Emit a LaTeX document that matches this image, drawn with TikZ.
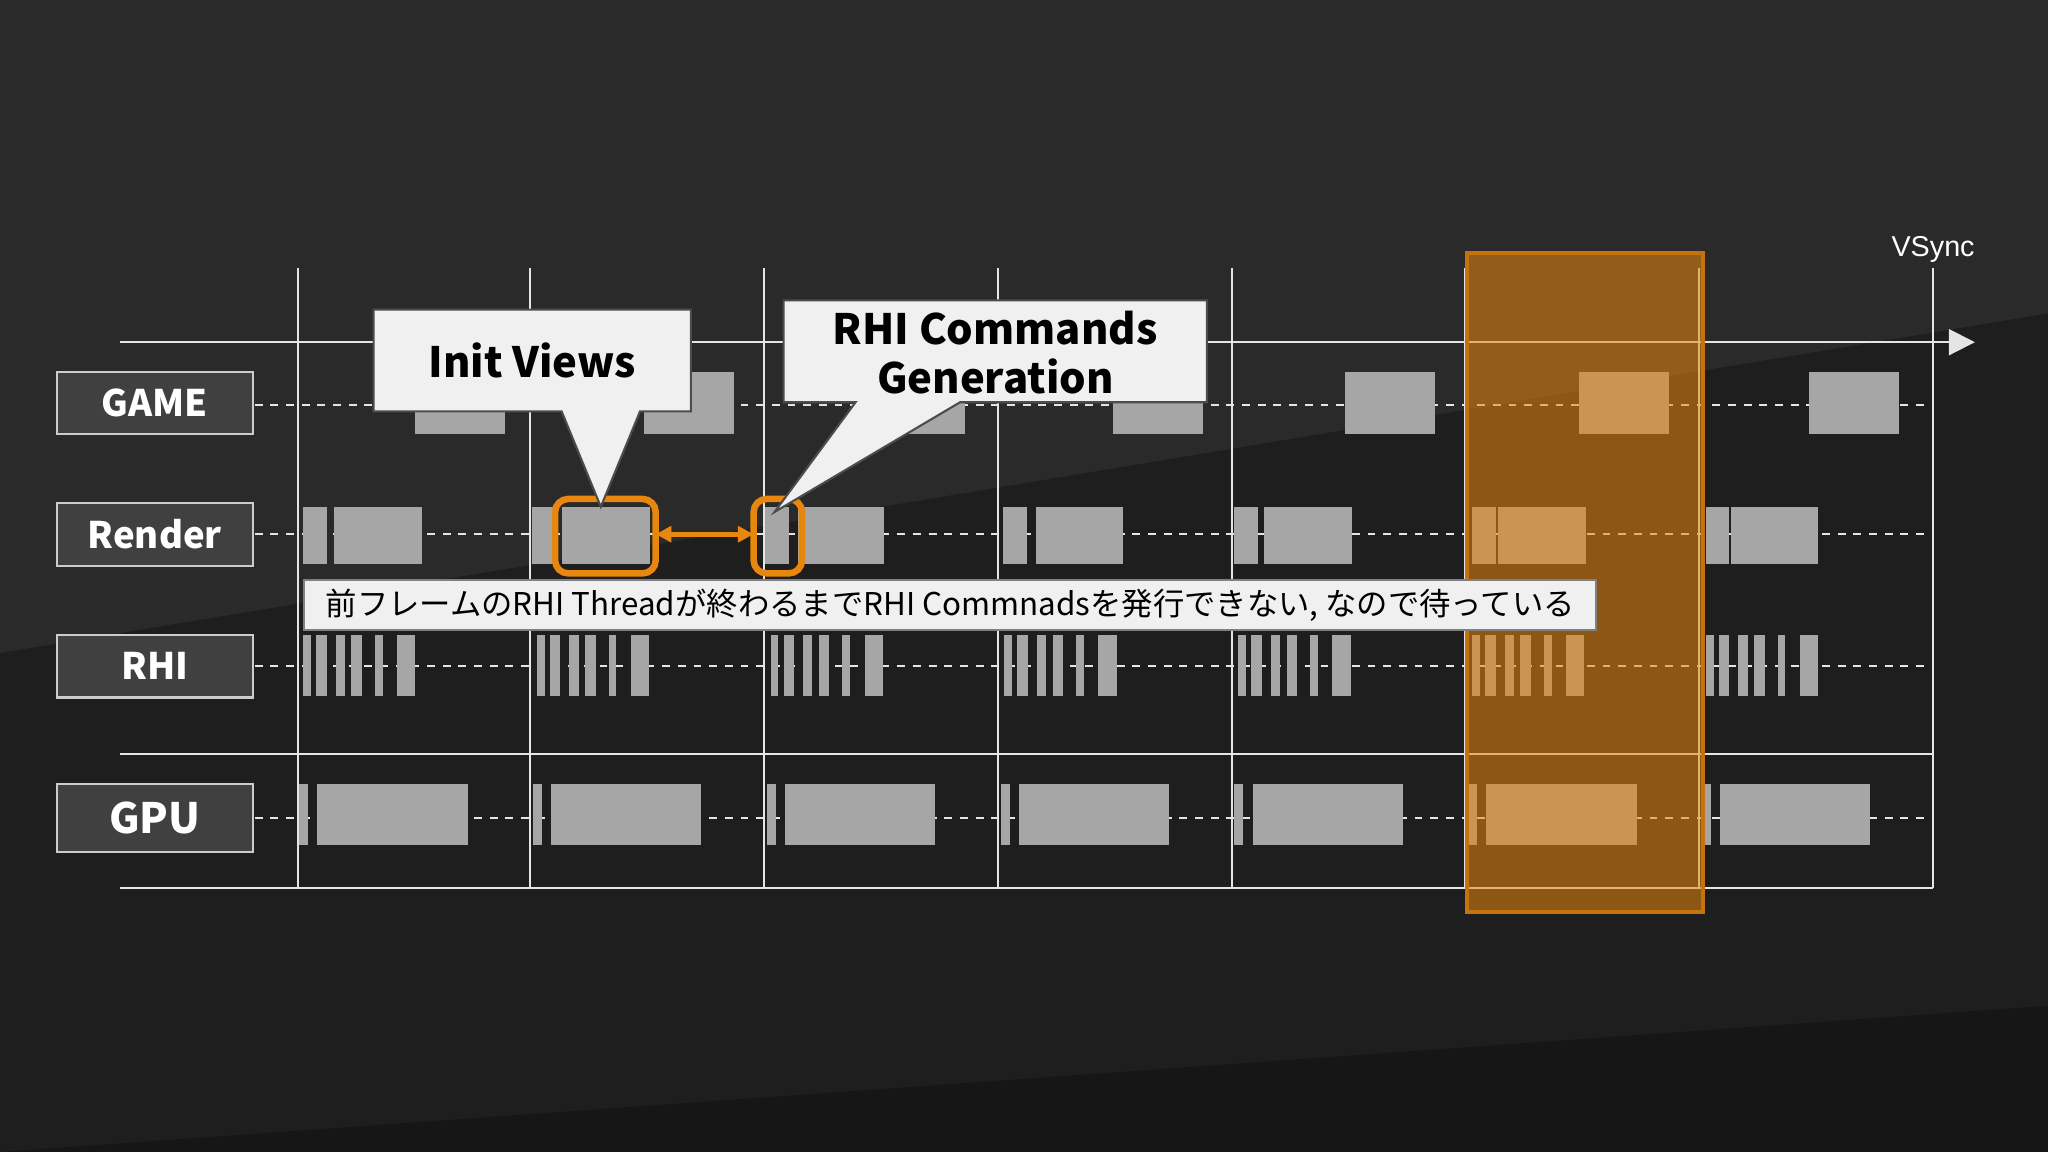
\documentclass[tikz,border=0pt]{standalone}
\usepackage{fontspec}
\setmainfont{Noto Sans CJK JP}
\newfontfamily\vsf{Liberation Sans}
\usetikzlibrary{arrows.meta}
\definecolor{bk}{HTML}{2A2A2A}
\definecolor{bkd}{HTML}{1E1E1E}
\definecolor{bkdd}{HTML}{161616}
\definecolor{blk}{HTML}{A6A6A6}
\definecolor{org}{HTML}{E8870F}
\definecolor{lab}{HTML}{404040}
\tikzset{
 blkbox/.style={fill=blk,draw=none},
 labbox/.style={fill=lab,draw=white!80!black,line width=0.8pt},
 gridln/.style={white!90!black,line width=0.8pt},
 dashln/.style={white!90!black,dashed,line width=0.8pt},
 callout/.style={fill=white!94!black,draw=black!70,line width=0.8pt},
 labtxt/.style={text=white,font=\bfseries\fontsize{14}{16}\selectfont},
}
\begin{document}
\begin{tikzpicture}[x=0.5pt,y=-0.5pt]
\useasboundingbox (0,0) rectangle (1568,882);
\fill[bk] (0,0) rectangle (1568,882);
\fill[bkd] (0,500) -- (1568,240) -- (1568,882) -- (0,882) -- cycle;
\fill[bkdd] (0,882) -- (1568,770) -- (1568,882) -- cycle;
% grid
\foreach \x in {228,406,585,764,943,1122,1301,1480} \draw[gridln] (\x,205) -- (\x,680);
\coordinate (a0) at (92,262); \coordinate (a1) at (1512,262);
\draw[gridln,-{Triangle[length=10pt,width=10pt]}] (a0) -- (a1);
\draw[gridln] (92,577) -- (1480,577);
\draw[gridln] (92,680) -- (1480,680);
\foreach \y in {310,409,510,626} \draw[dashln] (195,\y) -- (1480,\y);
\node[text=white,font=\vsf\fontsize{11}{13}\selectfont] (vs) at (1480,191) {VSync};
% labels
\node[labbox,labtxt,minimum width=75pt,minimum height=24pt] (game) at (118.5,308.5) {GAME};
\node[labbox,labtxt,minimum width=75pt,minimum height=24pt] (render) at (118.5,409) {Render};
\node[labbox,labtxt,minimum width=75pt,minimum height=24pt] (rhi) at (118.5,510) {RHI};
\node[labbox,labtxt,font=\bfseries\fontsize{16}{18}\selectfont,minimum width=75pt,minimum height=26pt] (gpu) at (118.5,626) {GPU};
% game blocks
\foreach \x in {318,493,670,852,1030,1209,1385} \fill[blkbox] (\x,285) rectangle ++(69,47);
% render blocks
\foreach \s/\b/\e in {232/256/323, 407/430/498, 586/611/677, 768/793/860, 945/968/1035, 1127/1147/1214, 1306/1325/1392}
 {\fill[blkbox] (\s,388) rectangle (\s+18,432); \fill[blkbox] (\b,388) rectangle (\e,432);}
% rhi
\foreach \o in {0,179,358,537,716,895,1074}
 \foreach \a/\b in {232/238,242/250,257/264,269/277,287/293,304/318}
  \fill[blkbox] (\a+\o,486) rectangle (\b+\o,533);
% gpu
\foreach \o in {0,179,358,537,716,895,1074}
 {\fill[blkbox] (229+\o,600) rectangle (236+\o,647); \fill[blkbox] (243+\o,600) rectangle (358+\o,647);}
% orange overlay
\fill[org,opacity=0.55] (1123,194) rectangle (1304,698);
\draw[org!85!black,line width=1.5pt] (1123,194) rectangle (1304,698);
% highlights
\draw[org,line width=2.5pt,rounded corners=5pt] (425,382) rectangle (502,439);
\coordinate (h1) at (502,409);
\draw[org,line width=2.5pt,rounded corners=5pt] (577,382) rectangle (614,439);
\coordinate (h2) at (577,409);
\draw[org,line width=2pt,{Triangle[length=6pt,width=6pt]}-{Triangle[length=6pt,width=6pt]}] (h1) -- (h2);
% callouts
\filldraw[callout] (286,237) -- (529,237) -- (529,315) -- (490,315) -- (460,388) -- (430,315) -- (286,315) -- cycle;
\node[font=\bfseries\fontsize{16}{18}\selectfont] (iv) at (407.5,276) {Init Views};
\filldraw[callout] (600,230) -- (924,230) -- (924,308) -- (735,308) -- (593,392) -- (655,308) -- (600,308) -- cycle;
\node[font=\bfseries\fontsize{16}{19}\selectfont,align=center] (rc) at (762,270) {RHI Commands\\Generation};
% caption
\node[fill=white!94!black,draw=black!50,line width=0.8pt,minimum width=494.5pt,minimum height=19pt,font=\fontsize{12}{14}\selectfont,inner sep=0pt] (cap) at (727.5,463) {前フレームのRHI Threadが終わるまでRHI Commnadsを発行できない, なので待っている};
\end{tikzpicture}
\end{document}
